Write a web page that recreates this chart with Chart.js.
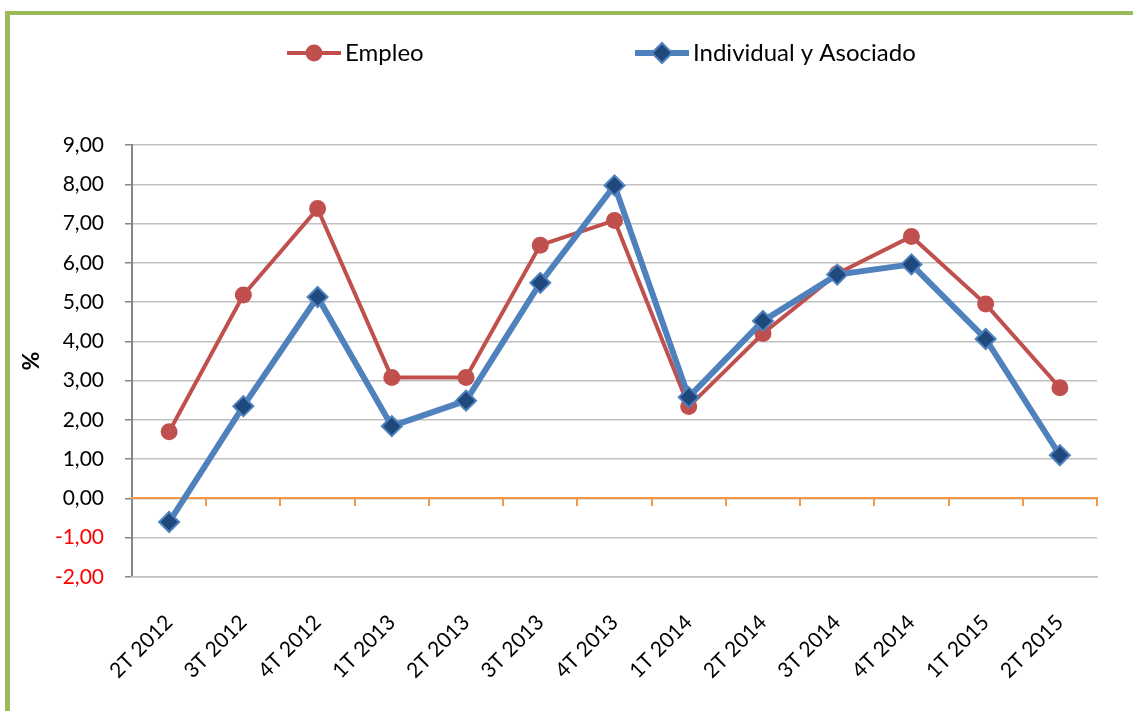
<!DOCTYPE html>
<html>
<head>
<meta charset="utf-8">
<script src="https://cdn.jsdelivr.net/npm/chart.js@4/dist/chart.umd.min.js"></script>
<style>
  body { margin: 0; background: #fff; overflow: hidden; }
  #frame {
    position: absolute; left: 5px; top: 11px; width: 1300px; height: 900px;
    border-left: 5px solid #9bbb59; border-top: 4px solid #9bbb59;
  }
  #lineChart { position: absolute; left: 0; top: 0; }
</style>
</head>
<body>
<div id="frame"></div>
<canvas id="lineChart" width="1133" height="711"></canvas>
<script>
// Datos
const categories = ['2T 2012', '3T 2012', '4T 2012', '1T 2013', '2T 2013', '3T 2013', '4T 2013',
  '1T 2014', '2T 2014', '3T 2014', '4T 2014', '1T 2015', '2T 2015'];
const empleo = [1.70, 5.18, 7.38, 3.08, 3.08, 6.45, 7.08, 2.34, 4.20, 5.72, 6.67, 4.95, 2.82];
const individual = [-0.60, 2.35, 5.13, 1.84, 2.49, 5.49, 7.97, 2.58, 4.52, 5.70, 5.96, 4.06, 1.10];
const yMin = -2, yMax = 9, yStep = 1;

Chart.defaults.font.family = 'Lato';
Chart.defaults.font.size = 21;
Chart.defaults.color = '#000';

// Leyenda dibujada a mano: linea + marcador + texto
const legendPlugin = {
  id: 'excelLegend',
  afterDraw(chart) {
    const ctx = chart.ctx;
    const items = [{ ds: 1, x: 287 }, { ds: 0, x: 635 }]; // Empleo, Individual
    const y = 53;
    items.forEach(it => {
      const ds = chart.data.datasets[it.ds];
      ctx.save();
      ctx.strokeStyle = ds.borderColor;
      ctx.lineWidth = ds.borderWidth;
      ctx.beginPath();
      ctx.moveTo(it.x, y);
      ctx.lineTo(it.x + 54, y);
      ctx.stroke();
      // drawPoint usa el fillStyle / strokeStyle actuales
      ctx.fillStyle = ds.pointBackgroundColor;
      ctx.strokeStyle = ds.pointBorderColor;
      ctx.lineWidth = ds.pointBorderWidth;
      Chart.helpers.drawPoint(ctx, {
        pointStyle: ds.pointStyle,
        radius: ds.pointRadius,
        borderWidth: ds.pointBorderWidth
      }, it.x + 27, y);
      ctx.fillStyle = '#000';
      ctx.font = '24px Lato';
      ctx.textBaseline = 'middle';
      ctx.fillText(ds.label, it.x + 58, y);
      ctx.restore();
    });
  }
};

const ctx = document.getElementById('lineChart').getContext('2d');
const chart = new Chart(ctx, {
  type: 'line',
  data: {
    labels: categories,
    datasets: [
      {
        label: 'Individual y Asociado',
        data: individual,
        order: 0,
        borderColor: '#4f81bd',
        borderWidth: 6,
        pointStyle: 'rectRot',
        pointRadius: 10,
        pointBackgroundColor: '#1f497d',
        pointBorderColor: '#4f81bd',
        pointBorderWidth: 2,
        tension: 0
      },
      {
        label: 'Empleo',
        data: empleo,
        order: 1,
        borderColor: '#c0504d',
        borderWidth: 4,
        pointStyle: 'circle',
        pointRadius: 8.5,
        pointBackgroundColor: '#c0504d',
        pointBorderColor: '#c0504d',
        pointBorderWidth: 0,
        tension: 0
      }
    ]
  },
  options: {
    responsive: false,
    animation: false,
    layout: { padding: { top: 145, right: 36, left: 0, bottom: 0 } },
    plugins: {
      legend: { display: false },
      tooltip: { enabled: false }
    },
    scales: {
      y: {
        min: yMin,
        max: yMax,
        afterFit(scale) { scale.width = 132; },
        ticks: {
          stepSize: yStep,
          padding: 21,
          color: c => (c.tick.value < 0 ? '#ff0000' : '#000'),
          callback: v => v.toFixed(2).replace('.', ',')
        },
        grid: {
          color: '#c0c0c0',
          lineWidth: 1.5,
          tickColor: '#868686',
          tickLength: 7
        },
        border: { color: '#868686', width: 2 },
        title: {
          display: true,
          text: '%',
          font: { size: 23, weight: 'bold' },
          padding: { top: 18 }
        }
      },
      x: {
        offset: true,
        afterFit(scale) { scale.height = 134; },
        grid: { display: false, drawTicks: false },
        border: { color: '#c0c0c0', width: 1.5 },
        ticks: { minRotation: 45, maxRotation: 45, padding: 33, autoSkip: false }
      },
      x0: {
        type: 'category',
        position: { y: 0 },
        offset: true,
        ticks: { display: false },
        grid: {
          offset: true,
          drawOnChartArea: false,
          drawTicks: true,
          tickLength: 7,
          color: '#f79646',
          lineWidth: 2
        },
        border: { color: '#f79646', width: 2 }
      }
    }
  },
  plugins: [legendPlugin]
});
</script>
</body>
</html>
